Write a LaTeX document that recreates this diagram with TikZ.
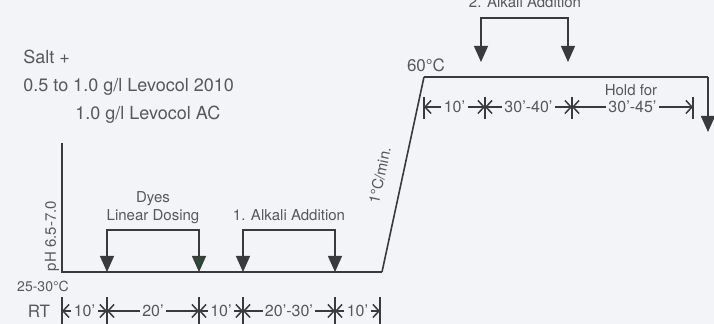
\documentclass[tikz,border=0pt]{standalone}
\usepackage{fontspec}
\setmainfont{TeX Gyre Heros}
\usetikzlibrary{calc,arrows.meta,positioning}
\definecolor{inkx}{HTML}{3A3A3D}
\definecolor{textx}{HTML}{57575C}
\definecolor{paperx}{HTML}{F3F4F8}
\definecolor{greenx}{HTML}{2C4A35}
\tikzset{
  curve/.style={line width=0.8pt,inkx},
  drop/.style={-{Triangle[length=8pt,width=7pt]},line width=0.65pt,inkx},
  dim/.style={-{Straight Barb[length=3pt,width=6.5pt]},line width=0.75pt,inkx},
  tick/.style={line width=0.6pt,inkx},
  lbl/.style={font=\fontsize{7.5}{9}\selectfont,text=textx,inner sep=1pt},
  tlbl/.style={font=\fontsize{8}{9}\selectfont,text=textx,inner sep=1pt},
  big/.style={font=\fontsize{9}{11}\selectfont,text=textx,inner sep=0pt}
}

\begin{document}
\begin{tikzpicture}[x=0.5pt,y=-0.5pt]
\fill[paperx] (0,0) rectangle (714,324);
\useasboundingbox (0,0) rectangle (714,324);

% recipe
\node[big,anchor=base west] (salt) at (23,64) {Salt +};
\node[big,anchor=base west] (lev1) at (23,92) {0.5 to 1.0 g/l Levocol 2010};
\node[big,anchor=base west] (lev2) at (75,120) {1.0 g/l Levocol AC};

% temperature curve
\coordinate (top) at (62,143);
\coordinate (o) at (62,272);
\coordinate (rs) at (382,272);
\coordinate (re) at (424,77);
\coordinate (he) at (708,77);
\coordinate (hd) at (708,132);
\draw[curve] (top) -- (o) -- (rs);
\draw[curve] (rs) -- node[lbl,sloped,above=7pt,pos=0.47] (rate) {1°C/min.} (re);
\draw[curve] (re) -- (he);
\draw[drop,line width=0.8pt] (he) -- (hd);

\node[lbl,rotate=90] (ph) at (52,236) {pH 6.5-7.0};
\node[lbl,font=\fontsize{7}{8}\selectfont,anchor=base] (rt1) at (43,292) {25-30°C};
\node[tlbl,font=\fontsize{8.5}{9}\selectfont] (rt) at (39,311) {RT};
\node[tlbl,font=\fontsize{8.5}{9}\selectfont,anchor=base] (hot) at (426,72) {60°C};

% dyes
\coordinate (d1) at (107,272);
\coordinate (d2) at (199,272);
\coordinate (dk) at (153,230);
\node[lbl,anchor=base] (dyes) at (153,203) {Dyes};
\node[lbl,anchor=base] (dose) at (153,221) {Linear Dosing};
\draw[drop] (d2 |- dk) -| (d1);
\draw[drop,-{Triangle[length=8pt,width=7pt,fill=greenx]}] (d1 |- dk) -| (d2);

% first alkali
\coordinate (a1) at (243,272);
\coordinate (a2) at (335,272);
\coordinate (ak) at (289,230);
\node[lbl,anchor=base] (alk1) at (289,221) {1. Alkali Addition};
\draw[drop] (a2 |- ak) -| (a1);
\draw[drop] (a1 |- ak) -| (a2);

% second alkali
\coordinate (c1) at (481,62);
\coordinate (c2) at (568,62);
\coordinate (ck) at (525,18);
\node[lbl,anchor=base] (alk2) at (525,8) {2. Alkali Addition};
\draw[drop] (c2 |- ck) -| (c1);
\draw[drop] (c1 |- ck) -| (c2);

% times at room temperature
\foreach \x [count=\i from 0] in {62,107,199,243,335,380} {
  \coordinate (t\i) at (\x,311);
  \draw[tick] (\x,297) -- (\x,326);
}
\foreach \a/\b/\t in {0/1/10', 1/2/20', 2/3/10', 3/4/20'-30', 4/5/10'} {
  \node[tlbl] (s\a) at ($(t\a)!0.5!(t\b)$) {\t};
  \draw[dim] (s\a) -- (t\a);
  \draw[dim] (s\a) -- (t\b);
}

% times at 60
\foreach \x [count=\i from 0] in {424,485,572,693} {
  \coordinate (u\i) at (\x,107);
  \draw[tick] (\x,97) -- (\x,119);
}
\foreach \a/\b/\t in {0/1/10', 1/2/30'-40', 2/3/30'-45'} {
  \node[tlbl] (h\a) at ($(u\a)!0.5!(u\b)$) {\t};
  \draw[dim] (h\a) -- (u\a);
  \draw[dim] (h\a) -- (u\b);
}
\node[lbl,anchor=base] (hold) at (631,96) {Hold for};
\end{tikzpicture}
\end{document}
